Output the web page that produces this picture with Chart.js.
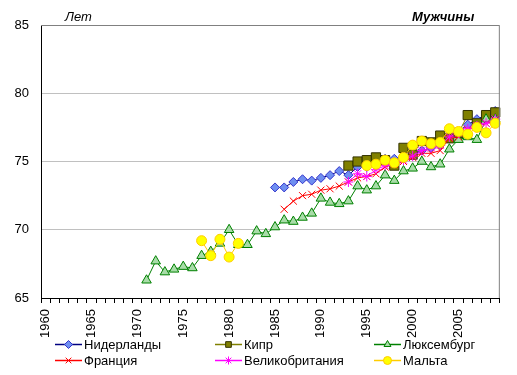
<!DOCTYPE html>
<html>
<head>
<meta charset="utf-8">
<script src="https://cdn.jsdelivr.net/npm/chart.js@4"></script>
<style>
  html, body { margin: 0; padding: 0; background: #fff; }
  #wrap { width: 517px; height: 375px; position: relative; }
</style>
</head>
<body>
<div id="wrap"><canvas id="chart" width="517" height="375"></canvas></div>
<script>
// --- Data ---
const years = [];
for (let y = 1960; y <= 2009; y++) years.push(String(y));

const netherlandsStart = 1985;
const netherlands = [73.1, 73.1, 73.5, 73.7, 73.6, 73.8, 74.0, 74.3, 74.0, 74.6, 74.6, 74.7, 75.2, 75.2, 75.3,
  75.5, 75.8, 76.0, 76.2, 76.9, 77.2, 77.7, 78.1, 78.4, 78.7];

const cyprusStart = 1993;
const cyprus = [74.7, 75.0, 75.1, 75.3, 75.1, 74.7, 76.0, 75.5, 76.5, 76.4, 76.9, 76.7, 77.1, 78.4, 77.8, 78.4, 78.6];

const luxembourgStart = 1971;
const luxembourg = [66.3, 67.7, 66.9, 67.1, 67.3, 67.2, 68.1, 68.4, 69.0, 70.0, 68.9, 68.9, 69.9, 69.7, 70.2,
  70.7, 70.6, 70.9, 71.2, 72.3, 72.0, 71.9, 72.1, 73.2, 72.9, 73.2, 74.0, 73.6, 74.3, 74.5, 75.0, 74.6, 74.8,
  75.9, 76.6, 76.8, 76.6, 78.1, 78.1];

const franceStart = 1986;
const france = [71.5, 72.1, 72.5, 72.6, 72.9, 73.0, 73.2, 73.5, 73.8, 73.9, 74.1, 74.6, 74.8, 75.0, 75.3,
  75.6, 75.6, 75.8, 76.7, 76.8, 77.3, 77.6, 77.8, 78.0];

const ukStart = 1993;
const uk = [73.5, 74.1, 73.9, 74.4, 74.7, 74.9, 75.1, 75.4, 75.8, 76.0, 76.2, 76.8, 77.1, 77.4, 77.6, 77.8, 78.1];

const maltaEarlyStart = 1977;
const maltaEarly = [69.2, 68.1, 69.3, 68.0, 69.0];
const maltaLateStart = 1995;
const maltaLate = [74.7, 74.8, 75.1, 74.9, 75.3, 76.2, 76.5, 76.3, 76.4, 77.4, 77.2, 77.0, 77.5, 77.1, 77.8];

// place a run of values onto the 1960-2009 axis
function pad(parts) {
  const out = years.map(() => null);
  parts.forEach(([start, vals]) => {
    vals.forEach((v, i) => { out[start - 1960 + i] = v; });
  });
  return out;
}

const FONT = '"Liberation Sans", Arial, sans-serif';

const series = [
  { label: 'Нидерланды', data: pad([[netherlandsStart, netherlands]]), borderColor: '#000080',
    pointStyle: 'rectRot', pointRadius: 4.5, pointBackgroundColor: '#6f8ff0', pointBorderColor: '#3333cc' },
  { label: 'Кипр', data: pad([[cyprusStart, cyprus]]), borderColor: '#808000',
    pointStyle: 'rect', pointRadius: 6.5, pointBackgroundColor: '#808000', pointBorderColor: '#333300' },
  { label: 'Люксембург', data: pad([[luxembourgStart, luxembourg]]), borderColor: '#008000',
    pointStyle: 'triangle', pointRadius: 5.5, pointBackgroundColor: '#a8dca8', pointBorderColor: '#008000' },
  { label: 'Франция', data: pad([[franceStart, france]]), borderColor: '#ff0000',
    pointStyle: 'crossRot', pointRadius: 5, pointBackgroundColor: '#ff0000', pointBorderColor: '#ff0000' },
  { label: 'Великобритания', data: pad([[ukStart, uk]]), borderColor: '#ff00ff',
    pointStyle: 'star', pointRadius: 5, pointBackgroundColor: '#ff00ff', pointBorderColor: '#ff00ff' },
  { label: 'Мальта', data: pad([[maltaEarlyStart, maltaEarly], [maltaLateStart, maltaLate]]), borderColor: '#ffcc00',
    pointStyle: 'circle', pointRadius: 5, pointBackgroundColor: '#ffff00', pointBorderColor: '#ffcc00' }
];

// --- Legend + titles + frame ---
const decor = {
  id: 'decor',
  afterDraw(chart) {
    const ctx = chart.ctx;
    const a = chart.chartArea;
    ctx.save();
    // top and right frame
    ctx.strokeStyle = '#808080';
    ctx.lineWidth = 1;
    ctx.beginPath();
    ctx.moveTo(a.left, a.top + 0.5);
    ctx.lineTo(a.right - 0.5, a.top + 0.5);
    ctx.lineTo(a.right - 0.5, a.bottom);
    ctx.stroke();

    // titles
    ctx.fillStyle = '#000';
    ctx.textBaseline = 'middle';
    ctx.textAlign = 'left';
    ctx.font = 'italic 13px ' + FONT;
    ctx.fillText('Лет', 65, 17);
    ctx.font = 'italic bold 13px ' + FONT;
    ctx.fillText('Мужчины', 412, 17);

    // legend, 3 columns x 2 rows
    const cols = [55, 215, 374];
    const rows = [344, 360];
    ctx.font = '13px ' + FONT;
    series.forEach((s, i) => {
      const x = cols[i % 3];
      const y = rows[Math.floor(i / 3)];
      ctx.strokeStyle = s.borderColor;
      ctx.lineWidth = 1.5;
      ctx.beginPath();
      ctx.moveTo(x, y + 0.5);
      ctx.lineTo(x + 27, y + 0.5);
      ctx.stroke();
      if (Chart.helpers && Chart.helpers.drawPoint) {
        ctx.fillStyle = s.pointBackgroundColor;
        ctx.strokeStyle = s.pointBorderColor;
        ctx.lineWidth = 1;
        Chart.helpers.drawPoint(ctx, { pointStyle: s.pointStyle, radius: Math.min(s.pointRadius, 4), rotation: 0, borderWidth: 1 }, x + 13.5, y + 0.5);
      }
      ctx.fillStyle = '#000';
      ctx.fillText(s.label, x + 29, y + 1);
    });
    ctx.restore();
  }
};

new Chart(document.getElementById('chart'), {
  type: 'line',
  data: {
    labels: years,
    datasets: series.map((s, i) => ({
      label: s.label,
      data: s.data,
      borderColor: s.borderColor,
      backgroundColor: s.pointBackgroundColor,
      borderWidth: 1,
      pointStyle: s.pointStyle,
      pointRadius: s.pointRadius,
      pointBackgroundColor: s.pointBackgroundColor,
      pointBorderColor: s.pointBorderColor,
      pointBorderWidth: 1,
      spanGaps: false,
      tension: 0,
      order: series.length - 1 - i
    }))
  },
  options: {
    responsive: false,
    animation: false,
    devicePixelRatio: 1,
    layout: { padding: { top: 25, right: 16, left: 0, bottom: 0 } },
    plugins: { legend: { display: false }, tooltip: { enabled: false } },
    scales: {
      x: {
        type: 'category',
        offset: true,
        afterFit(scale) { scale.height = 77; },
        border: { display: true, color: '#000', width: 1 },
        grid: { offset: true, drawOnChartArea: false, drawTicks: true, tickLength: 5, color: '#000' },
        ticks: {
          autoSkip: false,
          minRotation: 90,
          maxRotation: 90,
          padding: 6,
          color: '#000',
          font: { family: FONT, size: 13 },
          callback(val, idx) {
            const y = 1960 + idx;
            return y % 5 === 0 ? String(y) : '';
          }
        }
      },
      y: {
        min: 65,
        max: 85,
        afterFit(scale) { scale.width = 41; },
        border: { display: true, color: '#000', width: 1 },
        grid: { color: '#c0c0c0', drawTicks: false },
        ticks: { stepSize: 5, padding: 12, color: '#000', font: { family: FONT, size: 13 } }
      }
    }
  },
  plugins: [decor]
});
</script>
</body>
</html>
